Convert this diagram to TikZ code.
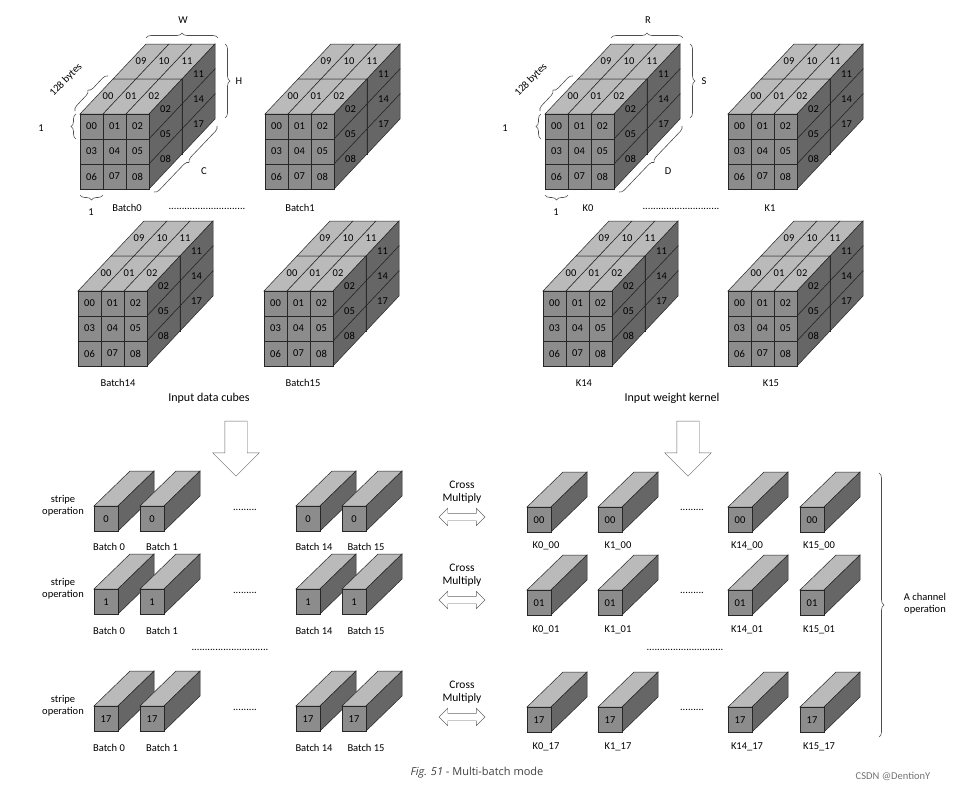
\documentclass[tikz,border=0pt]{standalone}
\usepackage{fontspec}
\setmainfont{Carlito}
\usetikzlibrary{shapes.arrows,decorations.pathreplacing}

\tikzset{
  cellbase/.style={draw=black!85,line width=0.5pt},
  front/.style={cellbase,fill=black!45},
  topf/.style={cellbase,fill=black!27},
  side/.style={cellbase,fill=black!60},
  lbl/.style={font=\fontsize{10.5}{11}\selectfont,inner sep=0pt},
  txt/.style={font=\fontsize{10.5}{12}\selectfont,inner sep=0pt,align=center},
  brc/.style={decorate,decoration={brace,amplitude=5pt},draw=black!70,line width=0.6pt},
  bigarrow/.style={single arrow,draw=black!60,fill=white,minimum height=55pt,inner sep=11pt,
    single arrow head extend=12pt,shape border rotate=270},
  xarrow/.style={double arrow,draw=black!60,fill=white,minimum height=46pt,inner sep=3.5pt,
    double arrow head extend=5pt},
}

% one block of a cube: x, y (front top-left), top labels, side labels
\newcommand\cblock[4]{%
  \foreach \t [count=\i from 0] in {#3}{
    \draw[topf] (#1+23*\i,#2) -- ++(23,0) -- ++(33,-35) -- ++(-23,0) -- cycle;
    \node[lbl] at (#1+23*\i+28,#2-17.5) {\t};
  }
  \foreach \t [count=\i from 0] in {#4}{
    \draw[side] (#1+69,#2+25*\i) -- ++(33,-35) -- ++(0,25) -- ++(-33,35) -- cycle;
    \node[lbl] at (#1+85.5,#2+25*\i-5) {\t};
  }
  \foreach \r in {0,1,2}{
    \foreach \c in {0,1,2}{
      \pgfmathtruncatemacro\n{3*\r+\c}
      \draw[front] (#1+23*\c,#2+25*\r) rectangle ++(23,25);
      \node[lbl] at (#1+23*\c+11.5,#2+25*\r+12.5) {0\n};
    }
  }
}
\newcommand\dcube[2]{%
  \cblock{#1+33}{#2-35}{09,10,11}{11,14,17}
  \cblock{#1}{#2}{00,01,02}{02,05,08}
}
% stripe: x, y, label
\newcommand\stripe[3]{%
  \draw[topf] (#1,#2) -- ++(36,-35) -- ++(24,0) -- ++(-36,35) -- cycle;
  \draw[side] (#1+24,#2) -- ++(36,-35) -- ++(0,25) -- ++(-36,35) -- cycle;
  \draw[front] (#1,#2) rectangle ++(24,25);
  \node[lbl] at (#1+12,#2+13) {#3};
}

\begin{document}
\begin{tikzpicture}[x=1pt,y=-1pt]
  \useasboundingbox[fill=white] (0,0) rectangle (961,790);

  % cubes
  \dcube{80}{114}
  \dcube{265}{114}
  \dcube{78}{291}
  \dcube{264}{291}
  \dcube{545}{114}
  \dcube{728}{114}
  \dcube{543}{291}
  \dcube{728}{291}

  % annotations, first cube
  \draw[brc] (146,38) -- (218,38);
  \node[txt] (w) at (183,20) {W};
  \draw[brc] (225,44) -- (225,118);
  \node[txt] (h) at (239,81) {H};
  \draw[brc] (217,126) -- (154,192);
  \node[txt] (c) at (204,171) {C};
  \draw[brc] (75,111) -- (108,76);
  \node[txt,rotate=46] (bytes) at (66,80) {128 bytes};
  \draw[brc] (76,139) -- (76,114);
  \node[txt] (one) at (41,128) {1};
  \draw[brc] (103,195) -- (80,195);
  \node[txt] (onb) at (91,212) {1};

  % annotations, first kernel
  \draw[brc] (611,38) -- (683,38);
  \node[txt] (r) at (648,20) {R};
  \draw[brc] (690,44) -- (690,118);
  \node[txt] (s) at (704,81) {S};
  \draw[brc] (682,126) -- (619,192);
  \node[txt] (d) at (668,171) {D};
  \draw[brc] (540,111) -- (573,76);
  \node[txt,rotate=46] (kbytes) at (531,80) {128 bytes};
  \draw[brc] (541,139) -- (541,114);
  \node[txt] (kone) at (505,128) {1};
  \draw[brc] (568,195) -- (545,195);
  \node[txt] (konb) at (556,212) {1};

  % cube labels
  \node[txt] (b0) at (127,208) {Batch0};
  \node[txt] (b1) at (300,208) {Batch1};
  \node[txt] (bd) at (207,209) {.............................};
  \node[txt] (b14) at (118,383) {Batch14};
  \node[txt] (b15) at (303,383) {Batch15};
  \node[txt] (k0) at (588,208) {K0};
  \node[txt] (k1) at (770,208) {K1};
  \node[txt] (kd) at (681,209) {.............................};
  \node[txt] (k14) at (584,383) {K14};
  \node[txt] (k15) at (771,383) {K15};
  \node[font=\fontsize{12}{14}\selectfont] (inp) at (209,398) {Input data cubes};
  \node[font=\fontsize{12}{14}\selectfont] (ker) at (672,398) {Input weight kernel};

  \node[bigarrow] (adown) at (236,443) {};
  \node[bigarrow] (kdown) at (688,443) {};

  % stripes
  \foreach \y/\ly/\n/\k [count=\j] in {506/547/0/00,589/631/1/01,706/748/17/17}{
    \node[txt] (so\j) at (63,\y) {stripe\\operation};
    \stripe{94}{\y}{\n}
    \stripe{140}{\y}{\n}
    \stripe{296}{\y}{\n}
    \stripe{342}{\y}{\n}
    \node[txt] (ba\j) at (109,\ly) {Batch 0};
    \node[txt] (bb\j) at (162,\ly) {Batch 1};
    \node[txt] (bc\j) at (314,\ly) {Batch 14};
    \node[txt] (be\j) at (366,\ly) {Batch 15};
    \node[txt] (ld\j) at (245,\y+4) {.........};
    \node[txt,font=\fontsize{11.5}{13}\selectfont] (cm\j) at (462,\y-14) {Cross\\Multiply};
    \node[xarrow] (xa\j) at (462,\y+11) {};
    \stripe{527}{\y+1}{\k}
    \stripe{598}{\y+1}{\k}
    \stripe{728}{\y+1}{\k}
    \stripe{800}{\y+1}{\k}
    \node[txt] (ka\j) at (546,\ly-1) {K0\_\k};
    \node[txt] (kb\j) at (618,\ly-1) {K1\_\k};
    \node[txt] (kc\j) at (747,\ly-1) {K14\_\k};
    \node[txt] (ke\j) at (819,\ly-1) {K15\_\k};
    \node[txt] (rd\j) at (692,\y+4) {.........};
  }
  \node[txt] (mdl) at (230,650) {.............................};
  \node[txt] (mdr) at (685,650) {.............................};

  \draw[brc] (879,473) -- (879,737);
  \node[txt] (chan) at (925,604) {A channel\\operation};

  \node[font=\fontsize{11}{13}\fontspec{Open Sans}\selectfont,text=black!75] (cap) at (477,773)
    {\textit{Fig. 51} - Multi-batch mode};
  \node[font=\fontsize{10.5}{12}\selectfont,text=black!55] (wm) at (893,776) {CSDN @DentionY};
\end{tikzpicture}
\end{document}
